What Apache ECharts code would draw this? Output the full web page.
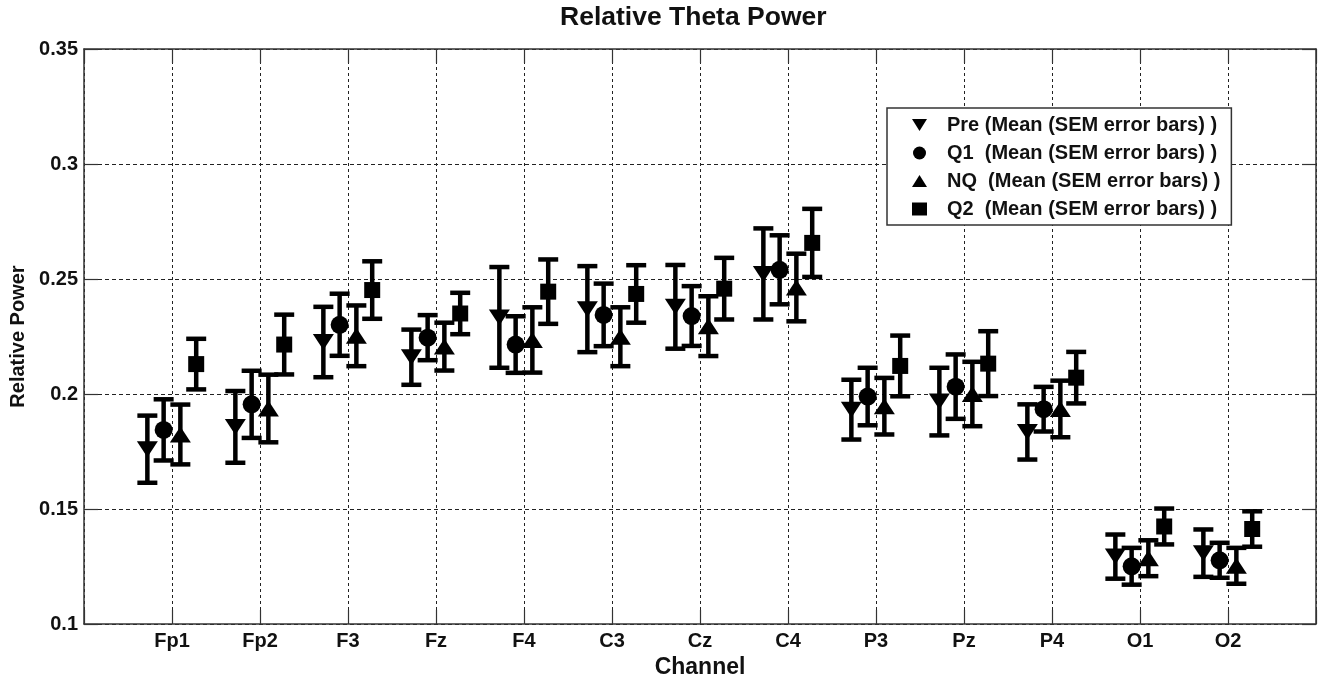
<!DOCTYPE html>
<html>
<head>
<meta charset="utf-8">
<script src="https://cdn.jsdelivr.net/npm/echarts@6/dist/echarts.min.js"></script>
<style>
html,body{margin:0;padding:0;background:#fff;}
#chart{width:1325px;height:680px;}
</style>
</head>
<body>
<div id="chart"></div>
<script>
const channels = ['Fp1','Fp2','F3','Fz','F4','C3','Cz','C4','P3','Pz','P4','O1','O2'];
const yTicks = [0.1, 0.15, 0.2, 0.25, 0.3, 0.35];

const preMean = [0.176,0.1857,0.2226,0.216,0.2333,0.2369,0.2379,0.2522,0.1932,0.1967,0.1835,0.1293,0.1308];
const preSem  = [0.0146,0.0156,0.0153,0.012,0.0219,0.0187,0.0182,0.0198,0.013,0.0147,0.012,0.0096,0.0103];
const q1Mean  = [0.1844,0.1955,0.2301,0.2245,0.2215,0.2344,0.2339,0.254,0.1989,0.2032,0.1934,0.1251,0.1277];
const q1Sem   = [0.0133,0.0146,0.0135,0.0098,0.0123,0.0136,0.013,0.015,0.0125,0.014,0.0097,0.008,0.0076];
const nqMean  = [0.1824,0.1937,0.2253,0.2206,0.2235,0.2249,0.2295,0.2463,0.1947,0.2,0.1935,0.1286,0.1253];
const nqSem   = [0.013,0.0147,0.0132,0.0104,0.0142,0.0128,0.013,0.0147,0.0123,0.014,0.0123,0.0078,0.0078];
const q2Mean  = [0.213,0.2215,0.2452,0.235,0.2445,0.2435,0.2458,0.2657,0.2122,0.2132,0.2071,0.1424,0.1413];
const q2Sem   = [0.011,0.013,0.0125,0.009,0.014,0.0125,0.0134,0.0148,0.0132,0.0141,0.0112,0.0078,0.0077];

const seriesNames = ['Pre (Mean (SEM error bars) )','Q1  (Mean (SEM error bars) )','NQ  (Mean (SEM error bars) )','Q2  (Mean (SEM error bars) )'];

const DOWN = 'path://M0,0L20,0L10,16Z';
const UP = 'path://M10,0L20,16L0,16Z';
const groups = [
  {name: seriesNames[0], mean: preMean, sem: preSem, off: -0.28, symbol: DOWN, size: [21,16]},
  {name: seriesNames[1], mean: q1Mean, sem: q1Sem, off: -0.095, symbol: 'circle', size: 18},
  {name: seriesNames[2], mean: nqMean, sem: nqSem, off: 0.095, symbol: UP, size: [21,16]},
  {name: seriesNames[3], mean: q2Mean, sem: q2Sem, off: 0.275, symbol: 'rect', size: 16}
];

const FONT = 'Liberation Sans, Arial, sans-serif';
const TXT = '#111';

const series = [];
groups.forEach(g => {
  series.push({
    name: g.name,
    type: 'scatter',
    z: 3,
    symbol: g.symbol,
    symbolSize: g.size,
    itemStyle: {color: '#000', opacity: 1},
    data: g.mean.map((m, i) => [i + 1 + g.off, m])
  });
  series.push({
    name: g.name,
    type: 'custom',
    z: 2,
    itemStyle: {color: '#000'},
    encode: {x: 0, y: 1},
    data: g.mean.map((m, i) => [i + 1 + g.off, m, g.sem[i]]),
    renderItem: function (params, api) {
      const x = api.value(0), m = api.value(1), s = api.value(2);
      const top = api.coord([x, m + s]);
      const bot = api.coord([x, m - s]);
      const hw = 10;
      const st = {stroke: '#000', lineWidth: 4.5};
      return {
        type: 'group',
        children: [
          {type: 'line', shape: {x1: top[0], y1: top[1], x2: bot[0], y2: bot[1]}, style: st},
          {type: 'line', shape: {x1: top[0] - hw, y1: top[1], x2: top[0] + hw, y2: top[1]}, style: st},
          {type: 'line', shape: {x1: bot[0] - hw, y1: bot[1], x2: bot[0] + hw, y2: bot[1]}, style: st}
        ]
      };
    }
  });
});

const chart = echarts.init(document.getElementById('chart'), null, {renderer: 'canvas'});
chart.setOption({
  animation: false,
  backgroundColor: '#fff',
  color: ['#000'],
  title: {
    text: 'Relative Theta Power',
    left: 560,
    top: 4,
    padding: 0,
    textStyle: {fontFamily: FONT, fontWeight: 'bold', fontSize: 26.5, color: TXT}
  },
  grid: {left: 84, right: 9, top: 49, bottom: 56, containLabel: false, outerBoundsMode: 'none'},
  legend: {
    orient: 'vertical',
    left: 887,
    top: 108,
    padding: [6, 11, 5, 25],
    itemGap: 6,
    itemWidth: 15,
    itemHeight: 13,
    backgroundColor: '#fff',
    borderColor: '#333',
    borderWidth: 1.5,
    borderRadius: 0,
    selectedMode: false,
    itemStyle: {color: '#000'},
    textStyle: {fontFamily: FONT, fontWeight: 'bold', fontSize: 20, color: TXT, lineHeight: 22, padding: [0, 0, 0, 15]},
    data: [
      {name: seriesNames[0], icon: DOWN},
      {name: seriesNames[1], icon: 'circle'},
      {name: seriesNames[2], icon: UP},
      {name: seriesNames[3], icon: 'rect'}
    ]
  },
  xAxis: [{
    type: 'value',
    min: 0, max: 14, interval: 1,
    name: 'Channel',
    nameLocation: 'middle',
    nameGap: 31,
    nameTextStyle: {fontFamily: FONT, fontWeight: 'bold', fontSize: 23, color: TXT},
    axisLine: {show: true, onZero: false, lineStyle: {color: '#333', width: 1.5}},
    axisTick: {show: true, inside: true, length: 14, lineStyle: {color: '#333', width: 1.2}},
    axisLabel: {
      margin: 7,
      fontFamily: FONT, fontWeight: 'bold', fontSize: 20, color: TXT,
      formatter: v => (v >= 1 && v <= channels.length) ? channels[v - 1] : ''
    },
    splitLine: {show: true, lineStyle: {color: '#222', width: 1, type: [3, 3]}}
  }, {
    type: 'value',
    position: 'top',
    min: 0, max: 14, interval: 1,
    axisLine: {show: true, onZero: false, lineStyle: {color: '#333', width: 1.5}},
    axisTick: {show: true, inside: true, length: 14, lineStyle: {color: '#333', width: 1.2}},
    axisLabel: {show: false},
    splitLine: {show: false}
  }],
  yAxis: [{
    type: 'value',
    min: yTicks[0], max: yTicks[yTicks.length - 1], interval: 0.05,
    name: 'Relative Power',
    nameLocation: 'middle',
    nameGap: 55,
    nameRotate: 90,
    nameTextStyle: {fontFamily: FONT, fontWeight: 'bold', fontSize: 20, color: TXT},
    axisLine: {show: true, onZero: false, lineStyle: {color: '#333', width: 1.5}},
    axisTick: {show: true, inside: true, length: 14, lineStyle: {color: '#333', width: 1.2}},
    axisLabel: {
      margin: 6,
      fontFamily: FONT, fontWeight: 'bold', fontSize: 20, color: TXT,
      formatter: v => String(Math.round(v * 100) / 100)
    },
    splitLine: {show: true, lineStyle: {color: '#222', width: 1, type: [4, 3]}}
  }, {
    type: 'value',
    position: 'right',
    min: yTicks[0], max: yTicks[yTicks.length - 1], interval: 0.05,
    axisLine: {show: true, onZero: false, lineStyle: {color: '#333', width: 1.5}},
    axisTick: {show: true, inside: true, length: 14, lineStyle: {color: '#333', width: 1.2}},
    axisLabel: {show: false},
    splitLine: {show: false}
  }],
  series: series
});
</script>
</body>
</html>
